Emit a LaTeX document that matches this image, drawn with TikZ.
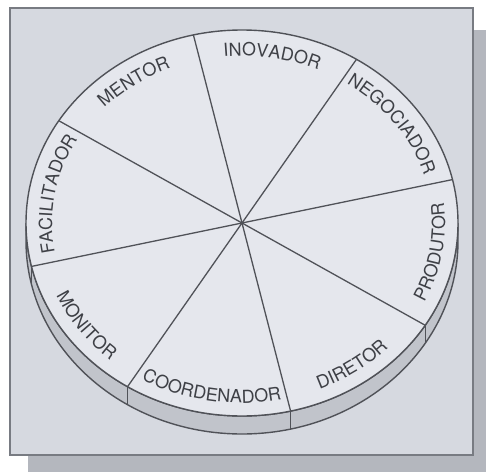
\documentclass[tikz,border=0pt]{standalone}
\usepackage{fontspec}
\setmainfont{TeX Gyre Heros}
\usetikzlibrary{decorations.text}
\definecolor{framefill}{RGB}{214,217,224}
\definecolor{shadowc}{RGB}{180,183,190}
\definecolor{diskfill}{RGB}{229,231,237}
\definecolor{bandfill}{RGB}{193,196,203}
\definecolor{linec}{RGB}{80,82,88}
\definecolor{textc}{RGB}{62,64,70}
\definecolor{framec}{RGB}{120,123,130}
\newcommand\lblfont{\fontsize{18pt}{18pt}\selectfont\color{textc}}
\newcommand\labelarc[5]{\path[decorate,decoration={text along path,text align=center,text={|\lblfont|#5}}] (#1:#3 and #4) arc[start angle=#1,end angle=#2,x radius=#3,y radius=#4];}
\begin{document}
\begin{tikzpicture}[x=1pt,y=1pt,
  rim/.style={draw=linec, line width=1.4pt},
  spoke/.style={draw=linec, line width=1.3pt}]
\useasboundingbox (0,0) rectangle (486,472);
\fill[white] (0,0) rectangle (486,472);
\fill[shadowc] (28,0) rectangle (486,442);
\filldraw[fill=framefill, draw=framec, line width=1.6pt] (10,17) rectangle (473,464);
\begin{scope}[shift={(242,249)}]
  % side band
  \filldraw[fill=bandfill, rim] (180:216 and 193) arc[start angle=180,end angle=360,x radius=216,y radius=193] -- ++(0,-18) arc[start angle=360,end angle=180,x radius=216,y radius=193] -- cycle;
  \foreach \t in {-167,-122,-77,-32} \draw[spoke] (\t:216 and 193) -- ++(0,-18);
  % top face
  \filldraw[fill=diskfill, rim] (0,0) ellipse[x radius=216, y radius=193];
  \coordinate (hub) at (0,0);
  \foreach \t/\u in {103/283,58/238,13/193,-32/148} \draw[spoke] (\t:216 and 193) -- (hub) -- (\u:216 and 193);
  % labels, upper half (clockwise, tops outward)
  \labelarc{120.5}{40.5}{190}{167}{INOVADOR}
  \labelarc{75.5}{-4.5}{190}{167}{NEGOCIADOR}
  \labelarc{165.5}{85.5}{190}{167}{MENTOR}
  \labelarc{210.5}{130.5}{190}{167}{FACILITADOR}
  % labels, lower half (counter-clockwise, tops inward)
  \labelarc{-49.5}{30.5}{203}{180}{PRODUTOR}
  \labelarc{-94.5}{-14.5}{203}{180}{DIRETOR}
  \labelarc{-139.5}{-59.5}{203}{180}{COORDENADOR}
  \labelarc{-184.5}{-104.5}{203}{180}{MONITOR}
\end{scope}
\end{tikzpicture}
\end{document}
